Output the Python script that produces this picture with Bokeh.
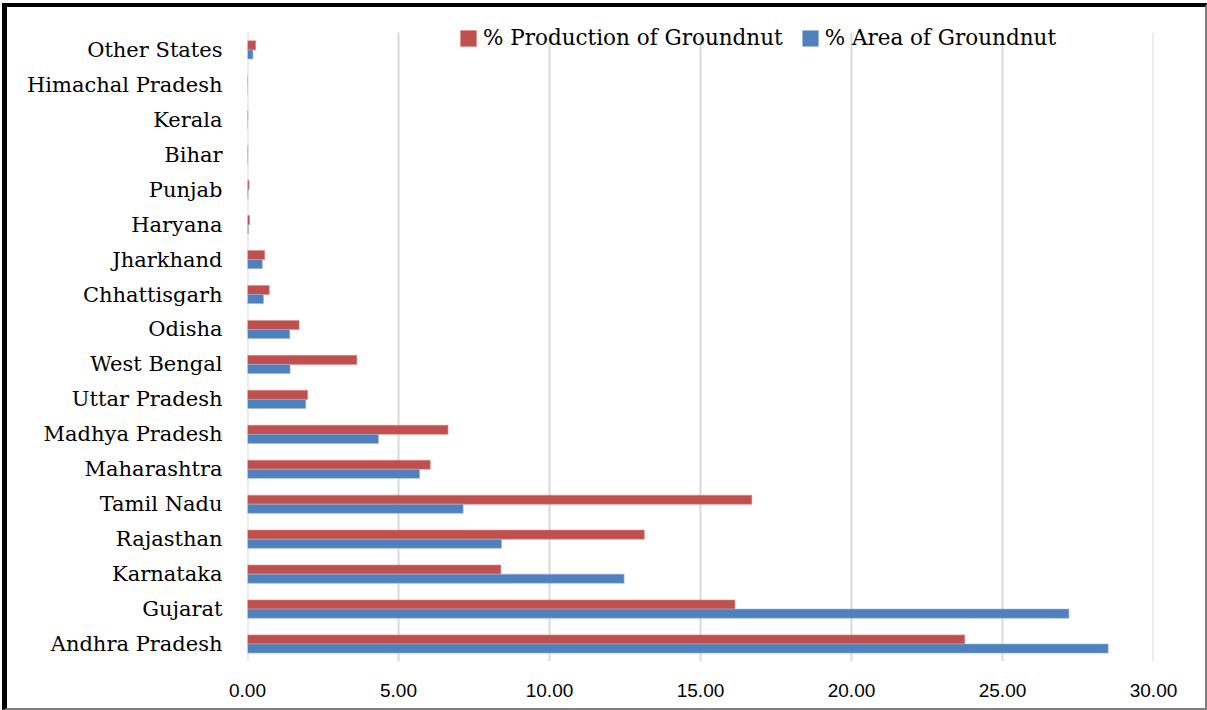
from bokeh.plotting import figure
from bokeh.models import (ColumnDataSource, Legend, LegendItem, FixedTicker,
                          CustomJSTickFormatter, Range1d)
from bokeh.transform import dodge
from bokeh.embed import file_html
from bokeh.resources import INLINE

# States listed bottom to top
states = ["Andhra Pradesh", "Gujarat", "Karnataka", "Rajasthan", "Tamil Nadu",
          "Maharashtra", "Madhya Pradesh", "Uttar Pradesh", "West Bengal", "Odisha",
          "Chhattisgarh", "Jharkhand", "Haryana", "Punjab", "Bihar", "Kerala",
          "Himachal Pradesh", "Other States"]
production_pct = [23.75, 16.14, 8.39, 13.14, 16.70, 6.05, 6.64, 1.99, 3.62, 1.71,
                  0.72, 0.57, 0.07, 0.05, 0.01, 0.01, 0.00, 0.27]
area_pct = [28.50, 27.20, 12.47, 8.41, 7.14, 5.70, 4.34, 1.93, 1.41, 1.40,
            0.53, 0.49, 0.03, 0.02, 0.01, 0.00, 0.00, 0.18]
x_ticks = [0, 5, 10, 15, 20, 25, 30]

RED = "#C0504D"
BLUE = "#4F81BD"
SERIF = "DejaVu Serif"

n = len(states)
pos = list(range(n))
src = ColumnDataSource(dict(pos=pos, state=states, prod=production_pct, area=area_pct))

# numeric category slots, with head-room above the last one for the legend
p = figure(x_range=(0, 30), y_range=Range1d(-0.5, n - 0.5 + 0.57),
           width=1198, height=701, output_backend="svg", toolbar_location=None,
           min_border_left=240, min_border_right=59, min_border_top=5,
           min_border_bottom=53)
p.styles = {"box-sizing": "content-box", "margin-top": "3px", "margin-left": "2px",
            "border-top": "4px solid black", "border-left": "5px solid black",
            "border-right": "2px solid #7f7f7f", "border-bottom": "2px solid #7f7f7f"}
p.outline_line_color = None
p.background_fill_color = "white"
p.xgrid.visible = False
p.ygrid.visible = False

# vertical gridlines spanning the category slots only
p.segment(x0=x_ticks, x1=x_ticks, y0=[-0.5] * len(x_ticks), y1=[n - 0.5] * len(x_ticks),
          line_color="#d9d9d9", line_width=2)

bh = 0.26
r_prod = p.hbar(y=dodge("pos", 0.13), right="prod", left=0,
                height=bh, source=src, fill_color=RED, line_color="#d98c8a",
                line_width=0.6)
r_area = p.hbar(y=dodge("pos", -0.13), right="area", left=0,
                height=bh, source=src, fill_color=BLUE, line_color="#9db7dc",
                line_width=0.6)

# axes
p.xaxis.ticker = FixedTicker(ticks=x_ticks)
p.xaxis.formatter = CustomJSTickFormatter(code="return tick.toFixed(2);")
p.xaxis.axis_line_color = None
p.xaxis.major_tick_line_color = None
p.xaxis.minor_tick_line_color = None
p.xaxis.major_tick_out = 0
p.xaxis.major_label_standoff = 22
p.xaxis.major_label_text_font = "Liberation Sans"
p.xaxis.major_label_text_font_size = "19px"
p.xaxis.major_label_text_color = "#000000"

p.yaxis.ticker = FixedTicker(ticks=pos)
p.yaxis.formatter = CustomJSTickFormatter(args=dict(names=states),
                                          code="return names[Math.round(tick)] || '';")
p.yaxis.axis_line_color = None
p.yaxis.major_tick_line_color = None
p.yaxis.minor_tick_line_color = None
p.yaxis.major_tick_out = 0
p.yaxis.major_label_standoff = 25
p.yaxis.major_label_text_font = SERIF
p.yaxis.major_label_text_font_size = "21px"
p.yaxis.major_label_text_color = "#000000"

legend = Legend(items=[LegendItem(label="% Production of Groundnut", renderers=[r_prod]),
                       LegendItem(label="% Area of Groundnut", renderers=[r_area])],
                orientation="horizontal", location=(211, 611),
                glyph_width=20, glyph_height=20, label_standoff=5, spacing=17,
                background_fill_alpha=0, border_line_color=None,
                label_text_font=SERIF, label_text_font_size="21.5px",
                label_text_color="#000000", padding=4, margin=0)
p.add_layout(legend)

open("out.html", "w").write(file_html(p, INLINE))
